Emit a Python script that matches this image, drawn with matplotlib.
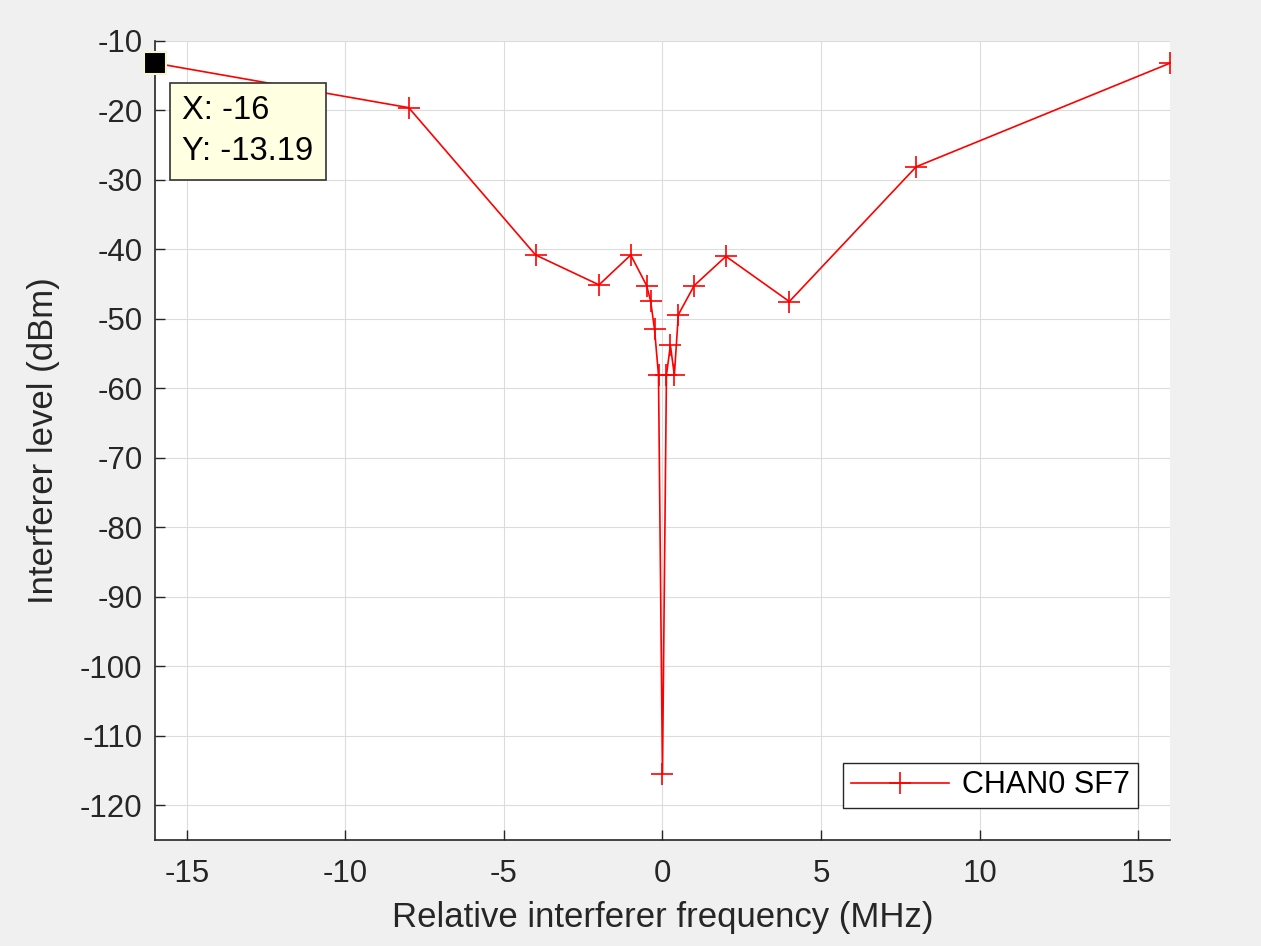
import matplotlib
matplotlib.use("Agg")
import matplotlib.pyplot as plt

plt.rcParams['font.family'] = ['Liberation Sans', 'DejaVu Sans']
plt.rcParams['axes.unicode_minus'] = False

# Interferer offset (MHz) and blocking level (dBm) for CHAN0 SF7
freq_mhz = [-16, -8, -4, -2, -1, -0.5, -0.375, -0.25, -0.125, 0,
            0.125, 0.25, 0.375, 0.5, 1, 2, 4, 8, 16]
level_dbm = [-13.19, -19.6, -40.8, -45.1, -40.8, -45.2, -47.4, -51.5, -58.1, -115.5,
             -58.1, -53.8, -58.1, -49.4, -45.2, -41.0, -47.5, -28.1, -13.2]
series_label = "CHAN0 SF7"
x_ticks = [-15, -10, -5, 0, 5, 10, 15]
y_ticks = [-120, -110, -100, -90, -80, -70, -60, -50, -40, -30, -20, -10]
tip_index = 0

ink = '#262626'
fig = plt.figure(figsize=(12.61, 9.46), dpi=100, facecolor='#f0f0f0')
ax = fig.add_axes([0.1229, 0.112, 0.8049, 0.8447])
ax.set_facecolor('white')

ax.plot(freq_mhz, level_dbm, color='red', lw=1.2, marker='+',
        markersize=16, markeredgewidth=1.2, label=series_label, zorder=3)

ax.set_xlim(-16, 16)
ax.set_ylim(-125, -10)
ax.set_xticks(x_ticks)
ax.set_yticks(y_ticks)
ax.grid(True, color='#dcdcdc', lw=0.8, zorder=0)
ax.set_axisbelow(True)

for s in ('top', 'right'):
    ax.spines[s].set_visible(False)
for s in ('left', 'bottom'):
    ax.spines[s].set_color(ink)
    ax.spines[s].set_linewidth(1.2)

ax.tick_params(axis='both', direction='in', length=7, width=1.0, color=ink,
               labelcolor=ink, labelsize=22.5)
ax.tick_params(axis='x', pad=14)
ax.tick_params(axis='y', pad=9)

ax.set_xlabel("Relative interferer frequency (MHz)", fontsize=25, color=ink, labelpad=8)
ax.set_ylabel("Interferer level (dBm)", fontsize=25, color=ink, labelpad=14)

leg = ax.legend(loc='lower right', fontsize=22, frameon=True, fancybox=False,
                framealpha=1, edgecolor=ink, handlelength=3.2, handletextpad=0.45,
                borderpad=0.25, borderaxespad=1.05)
leg.get_frame().set_linewidth(1.0)

# Data tip on the selected point
tx, ty = freq_mhz[tip_index], level_dbm[tip_index]
ax.plot([tx], [ty], marker='s', markersize=16, color='black',
        markeredgecolor='#f5f5d0', markeredgewidth=1.5, zorder=5, clip_on=False)
ax.annotate(f"X: {tx:g}\nY: {ty:g}", xy=(tx, ty), xycoords='data',
            xytext=(27, -32), textcoords='offset pixels', ha='left', va='top',
            fontsize=23.5, color='black', linespacing=1.42, zorder=6,
            bbox=dict(boxstyle='square,pad=0.38', facecolor='#ffffe1',
                      edgecolor='#333333', lw=1.2))

fig.savefig('out.png', dpi=100, facecolor=fig.get_facecolor())
